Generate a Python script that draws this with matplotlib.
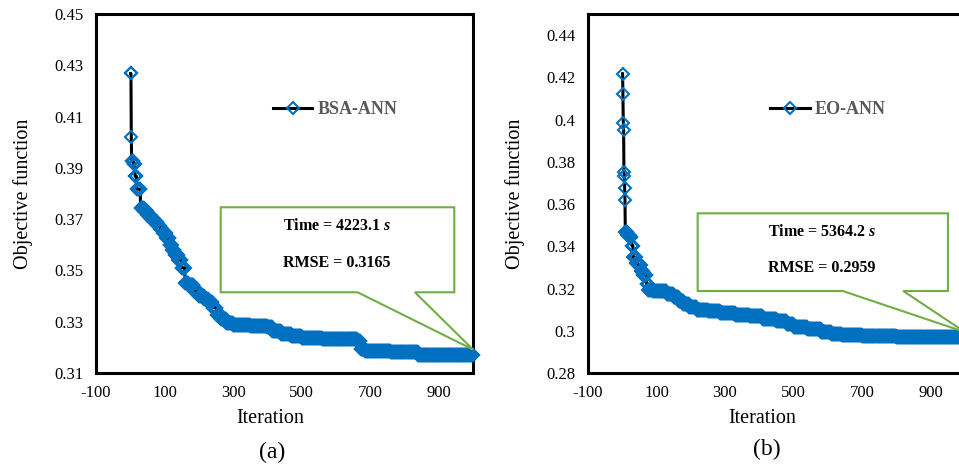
import numpy as np
import matplotlib
matplotlib.use("Agg")
import matplotlib.pyplot as plt
from matplotlib.patches import Polygon

plt.rcParams['font.family'] = ['Liberation Serif', 'DejaVu Serif']
plt.rcParams['mathtext.fontset'] = 'custom'
plt.rcParams['mathtext.rm'] = 'Liberation Serif:bold'
plt.rcParams['mathtext.it'] = 'Liberation Serif:italic:bold'
plt.rcParams['mathtext.bf'] = 'Liberation Serif:bold'

# ---------------- data (best-so-far objective, change points) ----------------
n_iter = 1000

bsa_change_iter = [1, 3, 4, 10, 14, 19, 30, 40, 50, 60, 70, 80, 88, 95, 105, 115,
                   122, 130, 140, 150, 160, 170, 185, 200, 215, 228, 240, 252, 265,
                   280, 300, 350, 400, 415, 440, 470, 500, 560, 662, 672, 685, 760, 840]
bsa_change_val = [0.4268, 0.4019, 0.3926, 0.3914, 0.3867, 0.3817, 0.3744, 0.3730,
                  0.3715, 0.3700, 0.3688, 0.3675, 0.3660, 0.3645, 0.3625, 0.3600,
                  0.3580, 0.3560, 0.3540, 0.3510, 0.3452, 0.3445, 0.3420, 0.3400,
                  0.3390, 0.3375, 0.3355, 0.3325, 0.3310, 0.3295, 0.3288, 0.3285,
                  0.3278, 0.3262, 0.3252, 0.3245, 0.3238, 0.3232, 0.3226, 0.3195,
                  0.3185, 0.3182, 0.3172]

eo_change_iter = [1, 2, 3, 4, 5, 6, 7, 8, 9, 15, 22, 28, 32, 40, 47, 55, 61, 71, 76,
                  90, 110, 130, 150, 165, 178, 195, 217, 250, 285, 330, 372, 410,
                  450, 480, 500, 540, 580, 610, 640, 700, 800, 900]
eo_change_val = [0.4217, 0.4123, 0.3986, 0.3949, 0.3754, 0.3734, 0.3675, 0.3619,
                 0.3466, 0.3455, 0.3442, 0.3403, 0.3348, 0.3320, 0.3309, 0.3285,
                 0.3266, 0.3222, 0.3195, 0.3190, 0.3186, 0.3175, 0.3159, 0.3140,
                 0.3127, 0.3112, 0.3100, 0.3093, 0.3085, 0.3075, 0.3068, 0.3058,
                 0.3045, 0.3030, 0.3018, 0.3008, 0.2995, 0.2985, 0.2978, 0.2975,
                 0.2972, 0.2970]

labels = ["BSA-ANN", "EO-ANN"]
times = ["4223.1", "5364.2"]
rmses = ["0.3165", "0.2959"]
panel_tags = ["(a)", "(b)"]

x_ticks = [-100, 100, 300, 500, 700, 900]
x_tick_labels = ["-100", "100", "300", "500", "700", "900"]
ya_ticks = [0.31, 0.33, 0.35, 0.37, 0.39, 0.41, 0.43, 0.45]
ya_tick_labels = ["0.31", "0.33", "0.35", "0.37", "0.39", "0.41", "0.43", "0.45"]
yb_ticks = [0.28, 0.30, 0.32, 0.34, 0.36, 0.38, 0.40, 0.42, 0.44]
yb_tick_labels = ["0.28", "0.3", "0.32", "0.34", "0.36", "0.38", "0.4", "0.42", "0.44"]


def expand(change_iter, change_val):
    it = np.arange(1, n_iter + 1)
    idx = np.searchsorted(np.array(change_iter), it, side='right') - 1
    return it, np.array(change_val)[idx]


BLUE = '#0070C0'
GREEN = '#70AD47'

fig = plt.figure(figsize=(9.59, 4.66), dpi=100)
ax_a = fig.add_axes([0.1001, 0.1996, 0.3931, 0.7704])
ax_b = fig.add_axes([0.6131, 0.1996, 0.3931, 0.7704])

configs = [
    dict(ax=ax_a, ci=bsa_change_iter, cv=bsa_change_val, ylim=(0.31, 0.45),
         yt=ya_ticks, ytl=ya_tick_labels, label=labels[0], time=times[0], rmse=rmses[0],
         tag=panel_tags[0], tagx=272.5 / 959, tagy=0.030,
         leg=(0.4687, 0.7326),
         box=(0.3308, 0.9504, 0.2248, 0.4616), base=(0.694, 0.846),
         txtx=0.639, t1y=0.409, t2y=0.307, xlabx=0.4615),
    dict(ax=ax_b, ci=eo_change_iter, cv=eo_change_val, ylim=(0.28, 0.45),
         yt=yb_ticks, ytl=yb_tick_labels, label=labels[1], time=times[1], rmse=rmses[1],
         tag=panel_tags[1], tagx=766.7 / 959, tagy=0.036,
         leg=(0.4828, 0.7326),
         box=(0.291, 0.9549, 0.2284, 0.4448), base=(0.6756, 0.8363),
         txtx=0.621, t1y=0.3936, t2y=0.2916, xlabx=0.4629),
]

for c in configs:
    ax = c['ax']
    it, val = expand(c['ci'], c['cv'])
    line, = ax.plot(it, val, color='black', lw=2.2, marker='D', ms=6.6,
                    mfc='none', mec=BLUE, mew=1.5, zorder=3, clip_on=False)
    ax.set_xlim(-100, 1000)
    ax.set_ylim(*c['ylim'])
    ax.set_xticks(x_ticks)
    ax.set_xticklabels(x_tick_labels)
    ax.set_yticks(c['yt'])
    ax.set_yticklabels(c['ytl'])
    ax.tick_params(length=0, pad=9, labelsize=12, colors='black')
    for s in ax.spines.values():
        s.set_linewidth(2.2)
        s.set_color('black')
    ax.set_ylabel("Objective function", fontsize=14.5)
    ax.yaxis.set_label_coords(-0.166, 0.5)
    ax.set_xlabel("Iteration", fontsize=14.5)
    ax.xaxis.set_label_coords(c['xlabx'], -0.100)
    ax.xaxis.label.set_va('top')

    ax.legend([line], [c['label']], loc='center left', bbox_to_anchor=c['leg'],
              frameon=False, borderpad=0, borderaxespad=0, handlelength=2.2,
              handletextpad=0.3, prop={'weight': 'bold', 'size': 13},
              labelcolor='#595959')

    # callout
    x0, x1, y0, y1 = c['box']
    bl, br = c['base']
    tip_disp = ax.transData.transform((it[-1], val[-1]))
    tip = ax.transAxes.inverted().transform((tip_disp[0], tip_disp[1] + 5))
    verts = [(x0, y1), (x1, y1), (x1, y0), (br, y0), tuple(tip), (bl, y0), (x0, y0)]
    poly = Polygon(verts, closed=True, transform=ax.transAxes, facecolor='white',
                   edgecolor=GREEN, lw=1.5, zorder=5, clip_on=False)
    ax.add_patch(poly)
    ax.text(c['txtx'], c['t1y'], "Time = " + c['time'] + r" $s$", transform=ax.transAxes,
            ha='center', va='center', fontsize=11.5, fontweight='bold', zorder=6)
    ax.text(c['txtx'], c['t2y'], "RMSE = " + c['rmse'], transform=ax.transAxes,
            ha='center', va='center', fontsize=11.5, fontweight='bold', zorder=6)

    fig.text(c['tagx'], c['tagy'], c['tag'], ha='center', va='center', fontsize=17)

fig.savefig("out.png", dpi=100)
